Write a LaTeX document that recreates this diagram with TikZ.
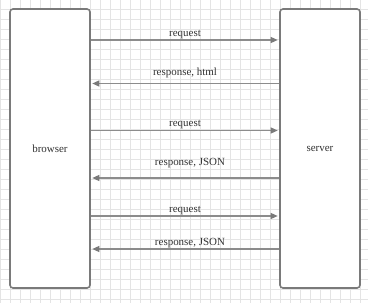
\documentclass[tikz,border=0pt]{standalone}
\usepackage{fontspec}
\setmainfont{Liberation Serif}
\usetikzlibrary{arrows.meta}
\definecolor{gridgray}{HTML}{E4E4E4}
\definecolor{boxgray}{HTML}{7A7A7A}
\definecolor{arrowgray}{HTML}{8C8C8C}
\definecolor{textgray}{HTML}{333333}
\begin{document}
\begin{tikzpicture}[x=1bp,y=-1bp,
    box/.style={draw=boxgray,line width=1.6bp,rounded corners=3bp,fill=white,
      minimum width=80bp,minimum height=279bp,inner sep=0pt,
      font=\fontsize{11}{13}\selectfont,text=textgray},
    msg/.style={draw=arrowgray,line width=1.3bp,
      -{Triangle[length=7bp,width=6bp,color=boxgray]},shorten >=1.5bp},
    lbl/.style={anchor=base,inner sep=0pt,midway,font=\fontsize{11}{13}\selectfont,text=textgray}]
    \useasboundingbox (0,0) rectangle (368,303);

    %griglia
    \foreach \gx in {0,10,...,360}
      \draw[gridgray,line width=0.6bp] (\gx,0)--(\gx,303);
    \foreach \gy in {9,19,...,299}
      \draw[gridgray,line width=0.6bp] (0,\gy)--(368,\gy);

    %browser e server
    \node[box] (browser) at (50,148.5) {browser};
    \node[box] (server) at (320,148.5) {server};

    %richieste e risposte
    \draw[msg] (browser.east|-0,40)--(server.west|-0,40)node[lbl,yshift=4bp]{request};
    \draw[msg] (server.west|-0,83.5)--(browser.east|-0,83.5)node[lbl,yshift=8bp]{response, html};
    \draw[msg] (browser.east|-0,130.5)--(server.west|-0,130.5)node[lbl,yshift=4.5bp]{request};
    \draw[msg] (server.west|-0,178)--(browser.east|-0,178)node[lbl,yshift=13bp,xshift=5bp]{response, JSON};
    \draw[msg] (browser.east|-0,216)--(server.west|-0,216)node[lbl,yshift=4bp]{request};
    \draw[msg] (server.west|-0,249)--(browser.east|-0,249)node[lbl,yshift=4bp,xshift=5bp]{response, JSON};
\end{tikzpicture}
\end{document}
